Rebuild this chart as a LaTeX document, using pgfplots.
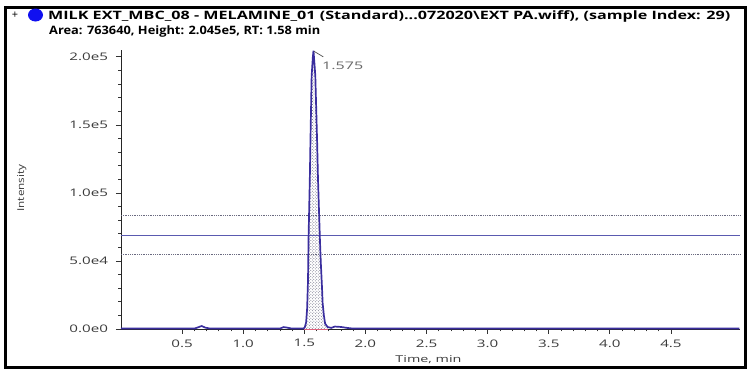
\documentclass[border=0pt]{standalone}
\usepackage{fontspec}
\setmainfont{Open Sans}
\usepackage{pgfplots}
\pgfplotsset{compat=1.18}
\usetikzlibrary{patterns}
\definecolor{trace}{HTML}{3A2E9E}
\definecolor{thr}{HTML}{5A5AB0}
\definecolor{dotc}{HTML}{6A6A80}
\definecolor{basel}{HTML}{E0607A}
\definecolor{dotblue}{HTML}{1010F0}
\definecolor{lbl}{HTML}{3A3A3A}
\pgfplotstableread{
t y
0.00 300
0.60 300
0.63 1200
0.66 2200
0.69 1000
0.73 300
1.30 300
1.33 1400
1.36 1000
1.40 300
1.495 300
1.505 1500
1.515 5000
1.523 15000
1.530 35000
1.535 68000
1.545 110000
1.550 137000
1.560 186000
1.570 200000
1.575 204500
1.583 195000
1.590 186000
1.598 160000
1.605 137000
1.612 110000
1.618 93000
1.628 65000
1.635 48700
1.645 30000
1.650 19000
1.660 10000
1.670 4000
1.690 1500
1.720 800
1.750 1800
1.800 1500
1.850 800
1.900 300
5.060 300
}\trace
\pgfplotstableread{
t y
1.495 0
1.505 1500
1.515 5000
1.523 15000
1.530 35000
1.535 68000
1.545 110000
1.550 137000
1.560 186000
1.570 200000
1.575 204500
1.583 195000
1.590 186000
1.598 160000
1.605 137000
1.612 110000
1.618 93000
1.628 65000
1.635 48700
1.645 30000
1.650 19000
1.660 10000
1.670 4000
1.690 0
}\peak
\begin{document}
\begin{tikzpicture}
\begin{axis}[
  scale only axis, width=619bp, height=279bp,
  xmin=0, xmax=5.065, ymin=0, ymax=205000,
  axis x line*=bottom, axis y line*=left,
  axis line style={-, draw=black!85, line width=0.9pt},
  xtick={0.5,1,1.5,2,2.5,3,3.5,4,4.5},
  xticklabels={0.5,1.0,1.5,2.0,2.5,3.0,3.5,4.0,4.5},
  ytick={0,50000,100000,150000,200000},
  yticklabels={0.0e0,5.0e4,1.0e5,1.5e5,2.0e5},
  scaled y ticks=false,
  minor x tick num=4, minor y tick num=4,
  tick align=outside,
  major tick length=5bp, minor tick length=2.5bp,
  tick style={black!80, line width=0.7pt},
  ticklabel style={font=\fontsize{10.5}{10.5}\selectfont, text=lbl},
  xticklabel style={xscale=1.45, yshift=-2bp},
  yticklabel style={xscale=1.45, xshift=-2bp},
  clip=false,
]
\addplot[draw=none, pattern=crosshatch dots, pattern color=dotc] table[x=t,y=y]{\peak} \closedcycle;
\addplot[dotc, densely dotted, line width=0.8pt] coordinates {(0,83400) (5.065,83400)};
\addplot[dotc, densely dotted, line width=0.8pt] coordinates {(0,54600) (5.065,54600)};
\addplot[thr, line width=1.1pt] coordinates {(0,68600) (5.065,68600)};
\addplot[trace, line width=1.7pt] table[x=t,y=y]{\trace};
\addplot[basel, line width=0.8pt] coordinates {(1.50,0) (1.69,0)};
\draw[black!70, line width=0.7pt] (axis cs:1.580,204000) -- (axis cs:1.655,200000);
\node[anchor=base west, text=black!60, font=\fontsize{10.5}{10.5}\selectfont, inner sep=0pt] at (axis cs:1.645,191000) {\resizebox{41bp}{\height}{1.575}};
\coordinate (bbsw) at (axis description cs:-0.19548,-0.16487);
\coordinate (bbne) at (axis description cs:1.01616,1.17921);
\draw[line width=3bp] (axis description cs:-0.18659,1.15412) rectangle (axis description cs:1.00808,-0.13978);
\node[font=\fontsize{11}{11}\selectfont, inner sep=0pt] at (axis description cs:-0.17124,1.12545) {+};
\fill[dotblue] (axis description cs:-0.13813,1.12545) ellipse [x radius=7.5bp, y radius=6.5bp];
\node[anchor=base west, inner sep=0pt, font=\fontsize{11.6}{13}\selectfont\bfseries] at (axis description cs:-0.11793,1.10753) {\resizebox{682bp}{\height}{MILK EXT\_MBC\_08 - MELAMINE\_01 (Standard)...072020\textbackslash EXT PA.wiff), (sample Index: 29)}};
\node[anchor=base west, inner sep=0pt, font=\fontsize{11.6}{13}\selectfont\bfseries] at (axis description cs:-0.11632,1.05627) {\resizebox{271bp}{\height}{Area: 763640, Height: 2.045e5, RT: 1.58 min}};
\node[rotate=90, inner sep=0pt, font=\fontsize{9.5}{9.5}\selectfont, text=lbl] at (axis description cs:-0.16042,0.50538) {\resizebox{47bp}{\height}{Intensity}};
\node[inner sep=0pt, font=\fontsize{9.5}{9.5}\selectfont, text=lbl] at (axis description cs:0.49677,-0.11111) {\resizebox{66bp}{\height}{Time, min}};
\end{axis}
\path[use as bounding box] (bbsw) rectangle (bbne);
\end{tikzpicture}
\end{document}
